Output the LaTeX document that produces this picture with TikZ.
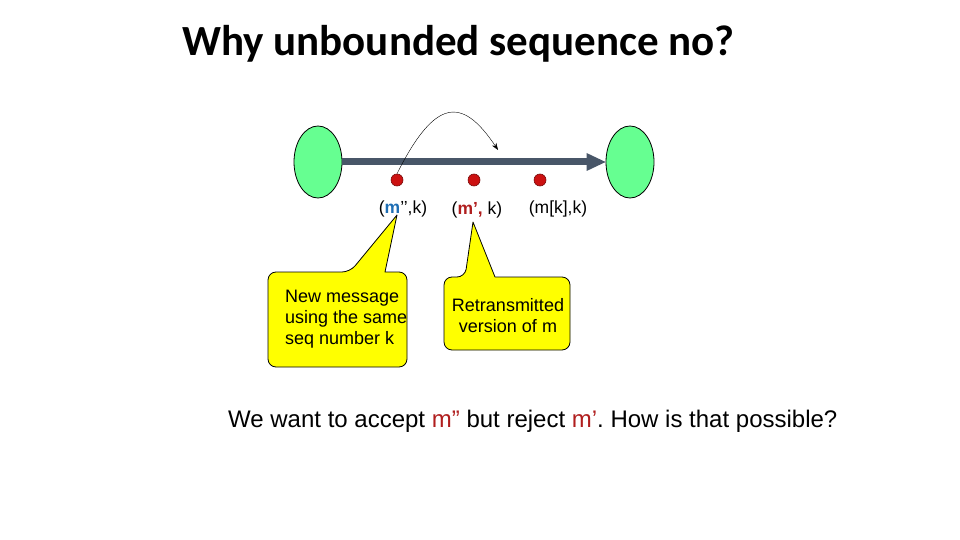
\documentclass[tikz,border=0pt]{standalone}
\usepackage{fontspec}
\setmainfont{Liberation Sans}
\newfontfamily\titlefont{Carlito}
\usetikzlibrary{arrows.meta,shapes.geometric}
\frenchspacing

\definecolor{hostgreen}{RGB}{102,255,145}
\definecolor{linkgray}{RGB}{72,86,104}
\definecolor{pktred}{RGB}{204,17,17}
\definecolor{newblue}{RGB}{30,110,180}
\definecolor{oldred}{RGB}{176,30,30}
\definecolor{noteyellow}{RGB}{255,255,0}

\tikzset{
  host/.style={ellipse, draw=black, line width=0.8pt, fill=hostgreen,
    minimum width=48pt, minimum height=72pt, inner sep=0pt},
  packet/.style={circle, fill=pktred, draw=pktred!60!black, line width=0.6pt,
    minimum size=12pt, inner sep=0pt},
  pktlabel/.style={anchor=base, inner sep=0pt, font=\fontsize{17.5}{20}\selectfont},
  bubble/.style={draw=black, line width=0.8pt, fill=noteyellow, line join=round},
  bubbletext/.style={inner sep=0pt, font=\fontsize{18}{21}\selectfont}
}

\begin{document}
\begin{tikzpicture}[x=1pt,y=-1pt]

    \useasboundingbox (0,0) rectangle (960,540);

    % Title
    \node[anchor=base west, inner sep=0pt, font=\titlefont\bfseries\fontsize{43}{50}\selectfont] (title) at (182,56) {Why unbounded sequence no?};

    % Sender and receiver
    \node[host] (sender) at (318,162) {};
    \node[host] (receiver) at (630,162) {};

    % Draw the channel
    \draw[linkgray, line width=7pt, -{Triangle[length=19pt,width=18pt,line width=0pt]}] (sender.east) -- (receiver.west);

    % Packets on the channel
    \node[packet] (pktA) at (397,180) {};
    \node[packet] (pktB) at (474,180) {};
    \node[packet] (pktC) at (540,180) {};

    \node[pktlabel] (lblA) at (403,213) {(\textbf{\color{newblue}m}’’,k)};
    \node[pktlabel] (lblB) at (477,214) {(\textbf{\color{oldred}m’,} k)};
    \node[pktlabel] (lblC) at (558,213) {(m[k],k)};

    % Jump over the old packets
    \coordinate (jump) at (498,150);
    \draw[thin, -{Stealth[length=7pt,width=5pt]}] (pktA.north) .. controls (435,98) and (462,96) .. (jump);

    % Callout for the new message
    \coordinate (tipA) at (397,215);
    \draw[bubble] (385,272) [rounded corners=8pt] -- (407,272) -- (407,367) -- (268,367) -- (268,272) -- (350,272) [sharp corners] -- (tipA) -- cycle;
    \node[bubbletext, anchor=north west, align=left] (noteA) at (285,290) {New message\\using the same\\seq number k};

    % Callout for the retransmission
    \coordinate (tipB) at (473,222);
    \draw[bubble] (495,277) [rounded corners=8pt] -- (570,277) -- (570,350) -- (444,350) -- (444,277) -- (465,277) [sharp corners] -- (tipB) -- cycle;
    \node[bubbletext, anchor=north, align=center] (noteB) at (508,298) {Retransmitted\\version of m};

    % Question
    \node[anchor=base west, inner sep=0pt, font=\fontsize{24}{28}\selectfont] (question) at (228,427) {We want to accept {\color{oldred}m”} but reject {\color{oldred}m’}. How is that possible?};

\end{tikzpicture}
\end{document}
